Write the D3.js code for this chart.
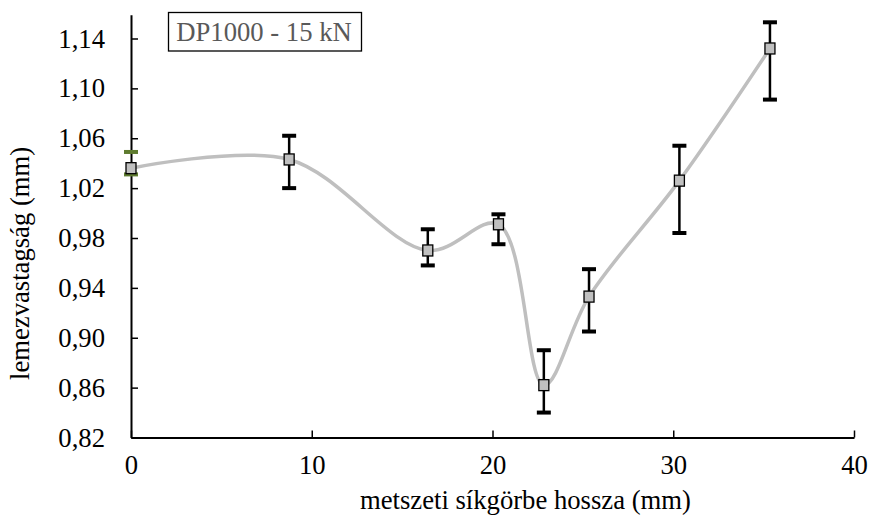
<!DOCTYPE html>
<html><head><meta charset="utf-8">
<script src="https://cdn.jsdelivr.net/npm/d3@7"></script>
<style>body{margin:0;background:#fff}svg{display:block}</style>
</head><body>
<svg id="c" width="871" height="520"></svg>
<script>
const xValues = [0, 8.75, 16.42, 20.33, 22.84, 25.34, 30.34, 35.35];
const yValues = [1.036, 1.043, 0.970, 0.991, 0.862, 0.933, 1.026, 1.132];
const yUpper  = [1.049, 1.062, 0.987, 0.999, 0.890, 0.955, 1.054, 1.153];
const yLower  = [1.031, 1.020, 0.958, 0.975, 0.840, 0.905, 0.984, 1.091];
const xTicks = [0, 10, 20, 30, 40];
const yTicks = [0.82, 0.86, 0.90, 0.94, 0.98, 1.02, 1.06, 1.10, 1.14];
const legendLabel = "DP1000 - 15 kN";
const xTitle = "metszeti síkgörbe hossza (mm)";
const yTitle = "lemezvastagság (mm)";

const svg = d3.select("#c");
const font = "'Liberation Serif','Times New Roman',serif";
const fs = "26.67px";
const x = d3.scaleLinear().domain([0, 40]).range([131, 854]);
const y = d3.scaleLinear().domain([0.82, 1.14]).range([437.5, 38.5]);
const yTop = 1.159;
const fmt = d => d.toFixed(2).replace(".", ",");

// axes
const xAxis = svg.append("g").attr("transform", `translate(0,${y(0.82)})`)
  .call(d3.axisBottom(x).tickValues(xTicks).tickSizeInner(-7).tickSizeOuter(0).tickPadding(18));
const yAxis = svg.append("g").attr("transform", `translate(${x(0)},0)`)
  .call(d3.axisLeft(d3.scaleLinear().domain([0.82, yTop]).range([y(0.82), y(yTop)]))
    .tickValues(yTicks).tickFormat(fmt).tickSizeInner(-7).tickSizeOuter(0).tickPadding(26));
[xAxis, yAxis].forEach(g => {
  g.selectAll("path.domain").attr("stroke", "#000").attr("stroke-width", 2);
  g.selectAll(".tick line").attr("stroke", "#000").attr("stroke-width", 1.5);
  g.selectAll(".tick text").attr("fill", "#000").style("font-family", font).style("font-size", fs);
});

// data
const data = xValues.map((v, i) => ({x: v, y: yValues[i], hi: yUpper[i], lo: yLower[i]}));

// smooth line
svg.append("path").datum(data)
  .attr("d", d3.line().x(d => x(d.x)).y(d => y(d.y)).curve(d3.curveCatmullRom.alpha(0.5)))
  .attr("fill", "none").attr("stroke", "#bfbfbf").attr("stroke-width", 3.5);

// error bars
const eb = svg.append("g");
data.forEach((d, i) => {
  const col = i === 0 ? "#5e7b2f" : "#000";
  if (i !== 0) eb.append("line").attr("x1", x(d.x)).attr("x2", x(d.x)).attr("y1", y(d.hi)).attr("y2", y(d.lo))
    .attr("stroke", "#000").attr("stroke-width", 2.5);
  [d.hi, d.lo].forEach(v => eb.append("line").attr("x1", x(d.x) - 7).attr("x2", x(d.x) + 7)
    .attr("y1", y(v)).attr("y2", y(v)).attr("stroke", col).attr("stroke-width", 4));
});

// markers
svg.append("g").selectAll("rect").data(data).join("rect")
  .attr("x", d => x(d.x) - 5).attr("y", d => y(d.y) - 5.5).attr("width", 10).attr("height", 11)
  .attr("fill", "#c0c0c0").attr("stroke", "#000").attr("stroke-width", 1.3);

// legend box
svg.append("rect").attr("x", 168.5).attr("y", 12.5).attr("width", 193).attr("height", 38.5)
  .attr("fill", "#fff").attr("stroke", "#000").attr("stroke-width", 1.3);
svg.append("text").attr("x", 264).attr("y", 41).attr("text-anchor", "middle")
  .style("font-family", font).style("font-size", fs).attr("fill", "#595959").text(legendLabel);

// titles
svg.append("text").attr("x", 360).attr("y", 509).attr("text-anchor", "start")
  .style("font-family", font).style("font-size", fs).attr("fill", "#000").text(xTitle);
svg.append("text").attr("transform", "translate(28.5,380) rotate(-90)").attr("text-anchor", "start")
  .style("font-family", font).style("font-size", fs).attr("fill", "#000").text(yTitle);
</script>
</body></html>
